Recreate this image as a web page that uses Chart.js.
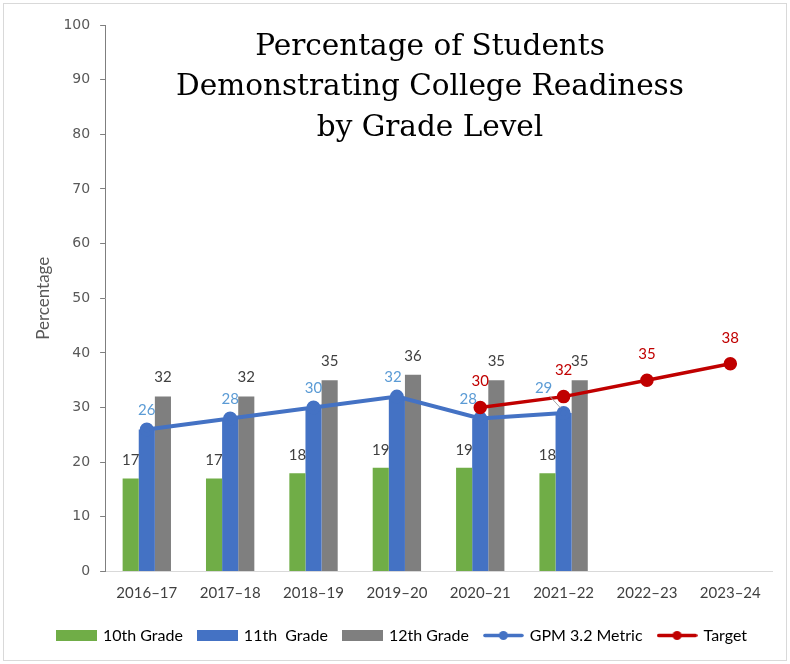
<!DOCTYPE html>
<html>
<head>
<meta charset="utf-8">
<script src="https://cdn.jsdelivr.net/npm/chart.js@4"></script>
<style>
  html, body { margin: 0; padding: 0; background: #fff; }
  #wrap { position: relative; width: 790px; height: 664px; }
  #frame { position: absolute; left: 3px; top: 3px; right: 3px; bottom: 3px; border: 1px solid #d9d9d9; pointer-events: none; }
</style>
</head>
<body>
<div id="wrap">
  <canvas id="chart" width="790" height="664"></canvas>
  <div id="frame"></div>
</div>
<script>
const categories = ['2016–17', '2017–18', '2018–19', '2019–20', '2020–21', '2021–22', '2022–23', '2023–24'];
const grade10 = [17, 17, 18, 19, 19, 18, null, null];
const grade11 = [26, 28, 30, 32, 28, 29, null, null];
const grade12 = [32, 32, 35, 36, 35, 35, null, null];
const gpmMetric = [26, 28, 30, 32, 28, 29, null, null];
const target = [null, null, null, null, 30, 32, 35, 38];
const titleLines = ['Percentage of Students', 'Demonstrating College Readiness', 'by Grade Level'];

const GREEN = '#70ad47';
const BLUE = '#4472c4';
const GRAY = '#7f7f7f';
const RED = '#c00000';

// data label styles, keyed by dataset label
const labelStyles = {
  '10th Grade': { color: '#404040', dy: 18 },
  '12th Grade': { color: '#404040', dy: 19 },
  'GPM 3.2 Metric': { color: '#5b9bd5', dy: 19, nudge: { 3: [-4, 0], 4: [-12, 0], 5: [-20, 6] }, leader: { 5: true } },
  'Target': { color: RED, dy: 26 }
};

function legendIcon(color, isLine) {
  const c = document.createElement('canvas');
  c.width = 41; c.height = 11;
  const ctx = c.getContext('2d');
  ctx.fillStyle = color;
  if (isLine) {
    ctx.strokeStyle = color;
    ctx.lineWidth = 3.5;
    ctx.lineCap = 'round';
    ctx.beginPath(); ctx.moveTo(2, 5.5); ctx.lineTo(39, 5.5); ctx.stroke();
    ctx.beginPath(); ctx.arc(20.5, 5.5, 4.5, 0, Math.PI * 2); ctx.fill();
  } else {
    ctx.fillRect(0, 0, 41, 11);
  }
  return c;
}

const titlePlugin = {
  id: 'bigTitle',
  afterDraw(chart) {
    const ctx = chart.ctx;
    ctx.save();
    ctx.fillStyle = '#000';
    ctx.font = '29.5px "DejaVu Serif"';
    ctx.textAlign = 'center';
    ctx.textBaseline = 'middle';
    titleLines.forEach((t, i) => ctx.fillText(t, 430, 47 + i * 40.5));
    ctx.restore();
  }
};

const labelPlugin = {
  id: 'valueLabels',
  afterDatasetsDraw(chart) {
    const ctx = chart.ctx;
    ctx.save();
    ctx.font = '15px Lato';
    ctx.textAlign = 'center';
    ctx.textBaseline = 'middle';
    chart.data.datasets.forEach((ds, i) => {
      const st = labelStyles[ds.label];
      if (!st) return;
      const meta = chart.getDatasetMeta(i);
      meta.data.forEach((el, j) => {
        const v = ds.data[j];
        if (v === null || v === undefined) return;
        const n = (st.nudge && st.nudge[j]) || [0, 0];
        const x = el.x + n[0];
        const y = el.y - st.dy - n[1];
        if (st.leader && st.leader[j]) {
          ctx.strokeStyle = '#a6a6a6';
          ctx.lineWidth = 1;
          ctx.beginPath(); ctx.moveTo(x + 6, y + 8); ctx.lineTo(el.x - 3, el.y - 5); ctx.stroke();
        }
        ctx.fillStyle = st.color;
        ctx.fillText(String(v), x, y);
      });
    });
    ctx.restore();
  }
};

new Chart(document.getElementById('chart'), {
  type: 'bar',
  data: {
    labels: categories,
    datasets: [
      { label: '10th Grade', data: grade10, backgroundColor: GREEN, order: 2, barPercentage: 1, categoryPercentage: 0.58 },
      { label: '11th  Grade', data: grade11, backgroundColor: BLUE, order: 2, barPercentage: 1, categoryPercentage: 0.58 },
      { label: '12th Grade', data: grade12, backgroundColor: GRAY, order: 2, barPercentage: 1, categoryPercentage: 0.58 },
      { type: 'line', label: 'GPM 3.2 Metric', data: gpmMetric, borderColor: BLUE, backgroundColor: BLUE, borderWidth: 4, pointRadius: 5, pointHoverRadius: 5, order: 1, tension: 0 },
      { type: 'line', label: 'Target', data: target, borderColor: RED, backgroundColor: RED, borderWidth: 3.5, pointRadius: 5, pointHoverRadius: 5, order: 0, tension: 0 }
    ]
  },
  options: {
    responsive: false,
    animation: false,
    layout: { padding: { top: 25, right: 18, left: 33, bottom: 10.5 } },
    plugins: {
      tooltip: { enabled: false },
      legend: {
        position: 'bottom',
        labels: {
          usePointStyle: true,
          pointStyleWidth: 37,
          padding: 16,
          color: '#595959',
          font: { family: 'Lato', size: 16 },
          generateLabels(chart) {
            return chart.data.datasets.map((ds, i) => ({
              text: ds.label,
              pointStyle: legendIcon(ds.borderColor || ds.backgroundColor, ds.type === 'line'),
              fillStyle: ds.backgroundColor,
              strokeStyle: ds.backgroundColor,
              lineWidth: 0,
              hidden: !chart.isDatasetVisible(i),
              datasetIndex: i
            }));
          }
        }
      }
    },
    scales: {
      x: {
        grid: { display: false },
        border: { display: true, color: '#d9d9d9', width: 1 },
        ticks: { color: '#404040', font: { family: 'Lato', size: 15 }, padding: 5, maxRotation: 0 },
        afterFit(scale) { scale.height += 4; }
      },
      y: {
        min: 0,
        max: 100,
        ticks: { stepSize: 10, color: '#595959', font: { family: 'DejaVu Sans', size: 14 }, padding: 10 },
        grid: { drawOnChartArea: false, drawTicks: true, tickLength: 5, color: '#7f7f7f' },
        border: { display: true, color: '#7f7f7f', width: 1 },
        title: { display: true, text: 'Percentage', color: '#595959', font: { family: 'Lato', size: 17 }, padding: 0 }
      }
    }
  },
  plugins: [titlePlugin, labelPlugin]
});
</script>
</body>
</html>
